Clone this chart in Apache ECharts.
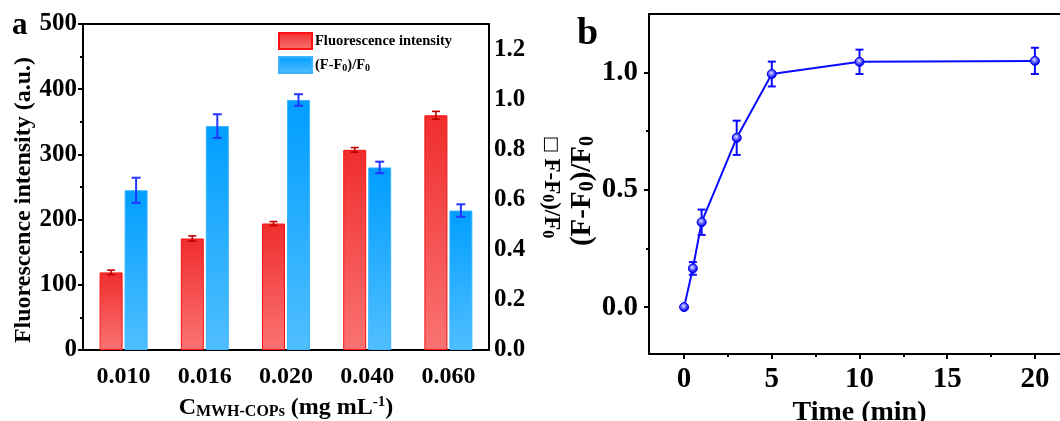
<!DOCTYPE html>
<html><head><meta charset="utf-8">
<script src="https://cdn.jsdelivr.net/npm/echarts@6/dist/echarts.min.js"></script>
<style>html,body{margin:0;padding:0;background:#fff}#c{width:1060px;height:421px}</style>
</head><body><div id="c"></div>
<script>
// ---------- data ----------
const concCats = ['0.010', '0.016', '0.020', '0.040', '0.060'];
const fluorValues = [119, 171, 194, 307, 360];
const fluorErrors = [3.5, 4, 3, 3.5, 6];
const ratioValues = [0.637, 0.893, 0.997, 0.728, 0.556];
const ratioErrors = [0.05, 0.047, 0.023, 0.023, 0.025];
const rightTickValues = [0, 0.2, 0.4, 0.6, 0.8, 1.0, 1.2];
const rightMinorTicks = [0.1, 0.3, 0.5, 0.7, 0.9, 1.1];
const timeValues = [0, 0.5, 1, 3, 5, 10, 20];
const kineticValues = [0, 0.165, 0.362, 0.722, 0.994, 1.046, 1.05];
const kineticErrors = [0, 0.027, 0.054, 0.073, 0.053, 0.052, 0.056];
const timeTicks = [0, 5, 10, 15, 20];
const timeMinorTicks = [2.5, 7.5, 12.5, 17.5];
const kinTicks = [0, 0.5, 1.0];
const kinMinorTicks = [0.25, 0.75];

// ---------- styling ----------
const FONT = "'Liberation Serif', 'Times New Roman', serif";
const BAR_W = 23, BAR_GAP_PX = 2;
const OFF = (BAR_W + BAR_GAP_PX) / 2;
const lab = (size) => ({ fontFamily: FONT, fontWeight: 'bold', fontSize: size, color: '#000' });
const axLine = { show: true, onZero: false, lineStyle: { color: '#000', width: 2 } };
const noLine = { show: false, onZero: false };
const tickStyle = { width: 2, color: '#000' };

const redGrad = new echarts.graphic.LinearGradient(0, 0, 0, 1, [
  { offset: 0, color: 'rgb(240,45,45)' }, { offset: 1, color: 'rgb(250,115,115)' }]);
const blueGrad = new echarts.graphic.LinearGradient(0, 0, 0, 1, [
  { offset: 0, color: 'rgb(0,158,255)' }, { offset: 1, color: 'rgb(80,190,255)' }]);

function errRender(offset, color, lw, cap) {
  return function (params, api) {
    const i = api.value(0), v = api.value(1), e = api.value(2);
    if (!e) return null;
    const hi = api.coord([i, v + e]);
    const lo = api.coord([i, v - e]);
    const x = hi[0] + offset;
    const st = { stroke: color, lineWidth: lw };
    return {
      type: 'group', children: [
        { type: 'line', shape: { x1: x, y1: hi[1], x2: x, y2: lo[1] }, style: st },
        { type: 'line', shape: { x1: x - cap / 2, y1: hi[1], x2: x + cap / 2, y2: hi[1] }, style: st },
        { type: 'line', shape: { x1: x - cap / 2, y1: lo[1], x2: x + cap / 2, y2: lo[1] }, style: st }
      ]
    };
  };
}

const sub = (size, pad) => ({ fontFamily: FONT, fontWeight: 'bold', fontSize: size, verticalAlign: 'bottom', padding: [pad, 0, 0, 0] });
const sup = (size, pad) => ({ fontFamily: FONT, fontWeight: 'bold', fontSize: size, verticalAlign: 'top', padding: [0, 0, pad, 0] });

const chart = echarts.init(document.getElementById('c'), null, { renderer: 'canvas' });
chart.setOption({
  backgroundColor: '#fff',
  animation: false,
  title: [
    { text: 'a', left: 12, top: 10, padding: 0, textStyle: lab(31) },
    { text: 'b', left: 577, top: 15, padding: 0, textStyle: lab(38) }
  ],
  legend: {
    orient: 'vertical', left: 278, top: 32, padding: 0, itemWidth: 33, itemHeight: 16, itemGap: 6,
    icon: 'rect',
    data: ['Fluorescence intensity', '(F-F0)/F0'],
    formatter: (n) => n === '(F-F0)/F0' ? '(F-F{s|0})/F{s|0}' : n,
    textStyle: {
      fontFamily: FONT, fontWeight: 'bold', fontSize: 14.5, color: '#000', padding: [0, 0, 0, -2],
      rich: { s: sub(10, 6) }
    }
  },
  grid: [
    { left: 83, top: 24, width: 406, height: 326, containLabel: false, outerBoundsMode: 'none' },
    { left: 649, top: 14, width: 421, height: 340, containLabel: false, outerBoundsMode: 'none' }
  ],
  xAxis: [
    { type: 'category', gridIndex: 0, data: concCats, position: 'bottom',
      axisLine: axLine, axisTick: { alignWithLabel: true, length: 5, lineStyle: tickStyle },
      axisLabel: Object.assign(lab(24), { margin: 15 }),
      name: 'C{sub|MWH-COPs} (mg mL{sup|-1})', nameLocation: 'middle', nameGap: 45,
      nameTextStyle: Object.assign(lab(24), { rich: { sub: sub(16, 9), sup: sup(15, 9) } }) },
    { type: 'category', gridIndex: 0, data: concCats, position: 'bottom',
      axisLine: noLine, axisLabel: { show: false },
      axisTick: { alignWithLabel: false, length: 3, lineStyle: tickStyle } },
    { type: 'category', gridIndex: 0, data: concCats, position: 'top',
      axisLine: axLine, axisTick: { show: false }, axisLabel: { show: false } },
    { type: 'value', gridIndex: 1, min: -2, max: 22, position: 'bottom', splitLine: { show: false },
      axisLine: axLine,
      axisTick: { customValues: timeTicks, length: 5, lineStyle: tickStyle },
      axisLabel: Object.assign(lab(29), { customValues: timeTicks, margin: 11 }),
      name: 'Time (min)', nameLocation: 'middle', nameGap: 32, nameTextStyle: lab(28) },
    { type: 'value', gridIndex: 1, min: -2, max: 22, position: 'bottom', splitLine: { show: false },
      axisLine: noLine, axisLabel: { show: false },
      axisTick: { customValues: timeMinorTicks, length: 3, lineStyle: tickStyle } },
    { type: 'value', gridIndex: 1, min: -2, max: 22, position: 'top', splitLine: { show: false },
      axisLine: axLine, axisTick: { show: false }, axisLabel: { show: false } }
  ],
  yAxis: [
    { type: 'value', gridIndex: 0, min: 0, max: 500, interval: 100, position: 'left',
      splitLine: { show: false }, axisLine: axLine,
      axisTick: { show: true, length: 5, lineStyle: tickStyle },
      minorTick: { show: true, splitNumber: 2, length: 3, lineStyle: tickStyle },
      axisLabel: Object.assign(lab(25), { margin: 6 }),
      name: 'Fluorescence intensity (a.u.)', nameLocation: 'middle', nameGap: 47, nameRotate: 90,
      nameTextStyle: Object.assign(lab(24), { padding: [0, 26, 0, 0] }) },
    { type: 'value', gridIndex: 0, min: 0, max: 1.3, position: 'right',
      splitLine: { show: false }, axisLine: axLine,
      axisTick: { customValues: rightTickValues, length: 5, lineStyle: tickStyle },
      axisLabel: Object.assign(lab(25), { customValues: rightTickValues, margin: 5, formatter: (v) => v.toFixed(1) }),
      name: '{box|□} F-F{sub|0})/F{sub|0}', nameLocation: 'middle', nameGap: 50, nameRotate: -90,
      nameTextStyle: Object.assign(lab(23), { rich: {
        box: { fontFamily: 'DejaVu Sans', fontWeight: 'normal', fontSize: 18, color: '#000' },
        sub: sub(16, 8) } }) },
    { type: 'value', gridIndex: 0, min: 0, max: 1.3, position: 'right',
      splitLine: { show: false }, axisLine: noLine, axisLabel: { show: false },
      axisTick: { customValues: rightMinorTicks, length: 3, lineStyle: tickStyle } },
    { type: 'value', gridIndex: 1, min: -0.2, max: 1.25, position: 'left',
      splitLine: { show: false }, axisLine: axLine,
      axisTick: { customValues: kinTicks, length: 5, lineStyle: tickStyle },
      axisLabel: Object.assign(lab(29), { customValues: kinTicks, margin: 11, formatter: (v) => v.toFixed(1) }),
      name: '(F-F{sub|0})/F{sub|0}', nameLocation: 'middle', nameGap: 35, nameRotate: 90,
      nameTextStyle: Object.assign(lab(29), { padding: [0, 14, 0, 0], rich: { sub: sub(20, 10) } }) },
    { type: 'value', gridIndex: 1, min: -0.2, max: 1.25, position: 'left',
      splitLine: { show: false }, axisLine: noLine, axisLabel: { show: false },
      axisTick: { customValues: kinMinorTicks, length: 3, lineStyle: tickStyle } }
  ],
  series: [
    { name: 'Fluorescence intensity', type: 'bar', xAxisIndex: 0, yAxisIndex: 0, barWidth: BAR_W,
      barGap: (BAR_GAP_PX / BAR_W * 100) + '%', data: fluorValues,
      itemStyle: { color: redGrad, borderColor: '#ff1010', borderWidth: 1 } },
    { name: '(F-F0)/F0', type: 'bar', xAxisIndex: 0, yAxisIndex: 1, barWidth: BAR_W,
      data: ratioValues,
      itemStyle: { color: blueGrad, borderColor: '#3ab4ff', borderWidth: 1 } },
    { type: 'custom', xAxisIndex: 0, yAxisIndex: 0, encode: { x: 0, y: 1 }, z: 5,
      data: fluorValues.map((v, i) => [i, v, fluorErrors[i]]),
      renderItem: errRender(-OFF, '#c00000', 1.6, 8) },
    { type: 'custom', xAxisIndex: 0, yAxisIndex: 1, encode: { x: 0, y: 1 }, z: 5,
      data: ratioValues.map((v, i) => [i, v, ratioErrors[i]]),
      renderItem: errRender(OFF, '#2236ff', 2, 9) },
    { type: 'custom', xAxisIndex: 3, yAxisIndex: 3, encode: { x: 0, y: 1 }, z: 3,
      data: timeValues.map((t, i) => [t, kineticValues[i], kineticErrors[i]]),
      renderItem: errRender(0, '#0a0aff', 2, 8) },
    { type: 'line', xAxisIndex: 3, yAxisIndex: 3, z: 4,
      data: timeValues.map((t, i) => [t, kineticValues[i]]),
      lineStyle: { color: '#0a0aff', width: 2 },
      symbol: 'circle', symbolSize: 9,
      itemStyle: {
        color: { type: 'radial', x: 0.45, y: 0.4, r: 0.5, colorStops: [
          { offset: 0, color: '#e8e8ff' }, { offset: 0.45, color: '#7070ff' }, { offset: 1, color: '#0000f0' }] },
        borderColor: '#0000f0', borderWidth: 1
      } }
  ]
});
</script></body></html>
